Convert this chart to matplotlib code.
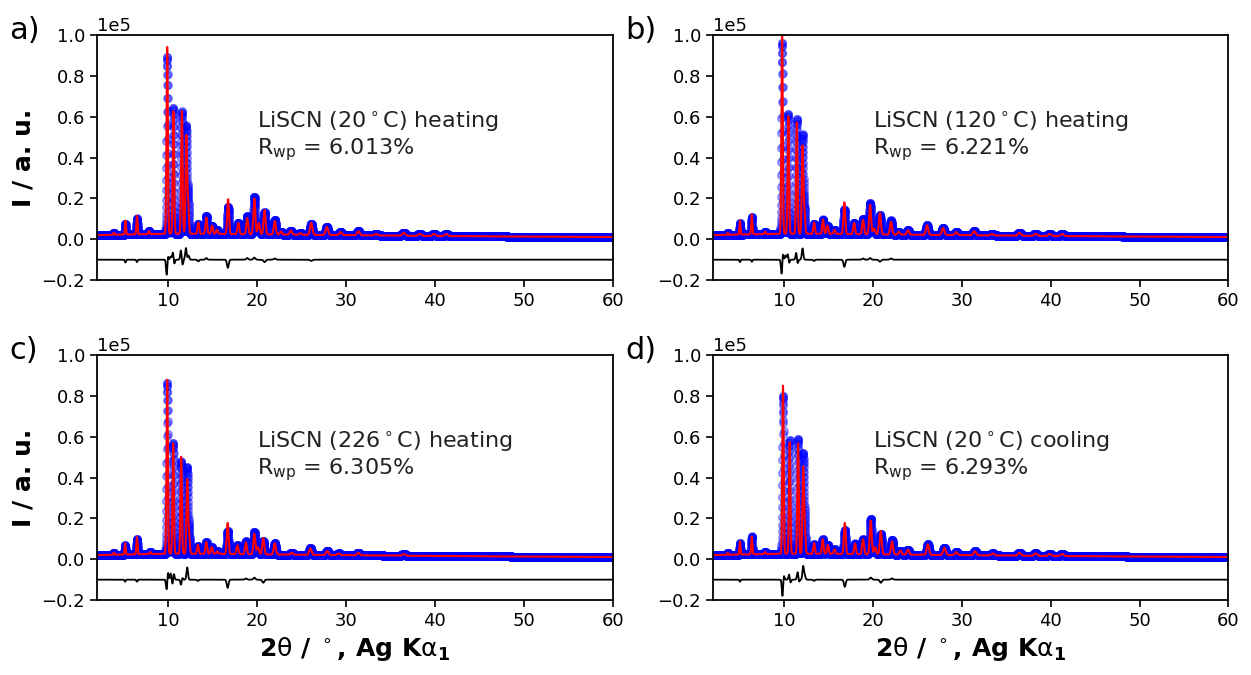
import matplotlib.pyplot as plt
import numpy as np

# Rietveld fits of LiSCN, Ag Ka1 radiation.
# Peak tables: 2theta (deg) and net calculated intensity (1e5 counts)
pos_a = [3.9, 5.2, 6.5, 7.85, 9.9, 10.6, 11.55, 12.05, 12.25, 13.4, 14.3, 14.95,
         15.5, 16.75, 17.9, 18.9, 19.7, 20.2, 20.85, 22.0, 22.7, 23.8, 24.9,
         26.1, 27.85, 29.4, 31.4, 33.4, 36.5, 38.3, 39.9, 41.3]
calc_a = [0.01, 0.068, 0.09, 0.015, 0.915, 0.6, 0.6, 0.475, 0.15, 0.055, 0.08,
          0.04, 0.02, 0.17, 0.055, 0.08, 0.175, 0.055, 0.12, 0.066, 0.015, 0.02,
          0.008, 0.06, 0.04, 0.015, 0.02, 0.008, 0.015, 0.01, 0.01, 0.01]
diff_pos_a = [5.2, 6.5, 9.85, 9.97, 10.3, 10.55, 10.68, 11.45, 11.6, 12.0, 12.3,
              13.4, 14.3, 16.72, 18.9, 19.7, 20.85, 22.0, 26.1]
diff_amp_a = [-0.014, -0.012, -0.08, 0.025, 0.015, 0.04, -0.025, 0.05, -0.03,
              0.057, 0.02, -0.008, 0.008, -0.04, 0.008, 0.01, -0.012, 0.006, -0.006]

pos_b = [3.7, 5.06, 6.39, 7.9, 9.8, 10.5, 11.45, 12.1, 12.3, 13.4, 14.4, 14.9,
         15.7, 16.8, 17.9, 18.9, 19.7, 20.15, 20.8, 22.05, 22.9, 23.95, 26.1,
         27.9, 29.4, 31.4, 33.4, 36.5, 38.3, 39.9, 41.3]
calc_b = [0.01, 0.068, 0.096, 0.012, 0.975, 0.575, 0.545, 0.425, 0.12, 0.055,
          0.07, 0.04, 0.02, 0.155, 0.055, 0.07, 0.145, 0.03, 0.105, 0.063, 0.014,
          0.022, 0.047, 0.035, 0.015, 0.02, 0.008, 0.015, 0.01, 0.01, 0.01]
diff_pos_b = [5.06, 6.39, 9.75, 9.88, 10.2, 10.45, 10.58, 11.4, 11.52, 12.1,
              13.4, 16.8, 18.9, 19.7, 20.8, 22.05]
diff_amp_b = [-0.012, -0.01, -0.075, 0.035, 0.02, 0.03, -0.02, 0.04, -0.025,
              0.055, -0.006, -0.035, 0.006, 0.008, -0.01, 0.006]

pos_c = [3.9, 5.17, 6.5, 8.0, 9.9, 10.57, 11.47, 12.15, 12.35, 13.35, 14.3,
         14.9, 15.55, 16.7, 17.8, 18.75, 19.7, 20.1, 20.7, 22.0, 23.9, 26.0,
         27.9, 29.2, 31.4, 36.5]
calc_c = [0.01, 0.055, 0.084, 0.01, 0.852, 0.54, 0.475, 0.36, 0.1, 0.043, 0.057,
          0.032, 0.012, 0.152, 0.043, 0.057, 0.1, 0.035, 0.08, 0.055, 0.01, 0.032,
          0.02, 0.008, 0.012, 0.008]
diff_pos_c = [5.17, 6.5, 9.85, 9.97, 10.3, 10.52, 10.63, 11.47, 11.55, 12.15,
              13.35, 16.7, 18.75, 19.7, 20.7]
diff_amp_c = [-0.01, -0.01, -0.057, 0.044, 0.03, -0.03, 0.035, -0.035, 0.02,
              0.06, -0.006, -0.04, 0.006, 0.01, -0.015]

pos_d = [3.7, 5.06, 6.39, 7.9, 9.9, 10.65, 11.6, 12.17, 12.35, 13.4, 14.37,
         14.94, 15.7, 16.85, 18.0, 18.9, 19.77, 20.26, 20.9, 22.17, 23.1, 23.95,
         26.2, 28.05, 29.4, 31.5, 33.5, 36.5, 38.3, 39.9, 41.3]
calc_d = [0.01, 0.065, 0.088, 0.01, 0.823, 0.545, 0.54, 0.415, 0.12, 0.052,
          0.071, 0.043, 0.022, 0.152, 0.052, 0.073, 0.165, 0.035, 0.115, 0.065,
          0.02, 0.025, 0.052, 0.035, 0.015, 0.02, 0.01, 0.015, 0.012, 0.01, 0.01]
diff_pos_d = [5.06, 9.85, 9.97, 10.6, 10.72, 11.55, 11.68, 12.17, 12.35, 13.4,
              16.85, 19.77, 20.9, 22.17]
diff_amp_d = [-0.01, -0.087, 0.03, 0.03, -0.02, 0.04, -0.015, 0.065, 0.02,
              -0.006, -0.035, 0.01, -0.015, 0.006]

# background knots (2theta, 1e5 counts)
bg_x = [2, 6, 10, 15, 20, 30, 40, 50, 60]
bg_y = [0.020, 0.024, 0.027, 0.027, 0.024, 0.020, 0.016, 0.013, 0.011]

labels = ['a)', 'b)', 'c)', 'd)']
titles = ['LiSCN (20$^\\circ$C) heating', 'LiSCN (120$^\\circ$C) heating',
          'LiSCN (226$^\\circ$C) heating', 'LiSCN (20$^\\circ$C) cooling']
rwp = ['6.013', '6.221', '6.305', '6.293']

panels = [(pos_a, calc_a, diff_pos_a, diff_amp_a),
          (pos_b, calc_b, diff_pos_b, diff_amp_b),
          (pos_c, calc_c, diff_pos_c, diff_amp_c),
          (pos_d, calc_d, diff_pos_d, diff_amp_d)]

tth = np.arange(2, 60.001, 0.01)
background = np.interp(tth, bg_x, bg_y)


def profile(x, centres, heights):
    # gaussian peaks, width growing with angle
    y = np.zeros_like(x)
    for c, h in zip(centres, heights):
        sig = (0.1 + 0.008 * c) / 2.355
        y += h * np.exp(-0.5 * ((x - c) / sig) ** 2)
    return y


fig, axes = plt.subplots(2, 2, figsize=(12.51, 6.75), dpi=100)
fig.subplots_adjust(left=0.0775, right=0.982, bottom=0.111, top=0.948,
                    wspace=0.194, hspace=0.306)

for i, ax in enumerate(axes.flat):
    pos, calc, dpos, damp = panels[i]
    ycalc = background + profile(tth, pos, calc)
    ydiff = profile(tth, dpos, damp)
    yobs = ycalc + ydiff

    ax.plot(tth, yobs * 1e5, 'o', color='b', alpha=0.35, ms=5.5, mew=1,
            snap=False)
    ax.plot(tth, ycalc * 1e5, '-', color='r', lw=1.5)
    ax.plot(tth, (ydiff - 0.1) * 1e5, '-', color='k', lw=1.3)

    ax.set_xlim(2, 60)
    ax.set_ylim(-0.2e5, 1.0e5)
    ax.set_yticks(np.arange(-0.2, 1.01, 0.2) * 1e5)
    ax.set_xticks([10, 20, 30, 40, 50, 60])
    ax.ticklabel_format(axis='y', style='sci', scilimits=(0, 0))
    ax.tick_params(labelsize=13, width=1.2, length=5)
    ax.yaxis.get_offset_text().set_fontsize(13)
    for sp in ax.spines.values():
        sp.set_linewidth(1.3)

    ax.text(20, 0.574e5, titles[i], fontsize=16, va='center', color='#222222')
    ax.text(20, 0.437e5, 'R$_{\\mathrm{wp}}$ = ' + rwp[i] + '%', fontsize=16,
            va='center', color='#222222')
    ax.text(-0.17, 1.02, labels[i], transform=ax.transAxes, fontsize=22,
            va='center')

    if i % 2 == 0:
        ax.set_ylabel('I / a. u.', fontsize=18, fontweight='bold')
    if i >= 2:
        ax.set_xlabel(r'2$\mathrm{\theta}$ / $^\circ$, Ag K$\mathrm{\alpha}_\mathbf{1}$',
                      fontsize=18, fontweight='bold')

fig.savefig('out.png', dpi=100)
